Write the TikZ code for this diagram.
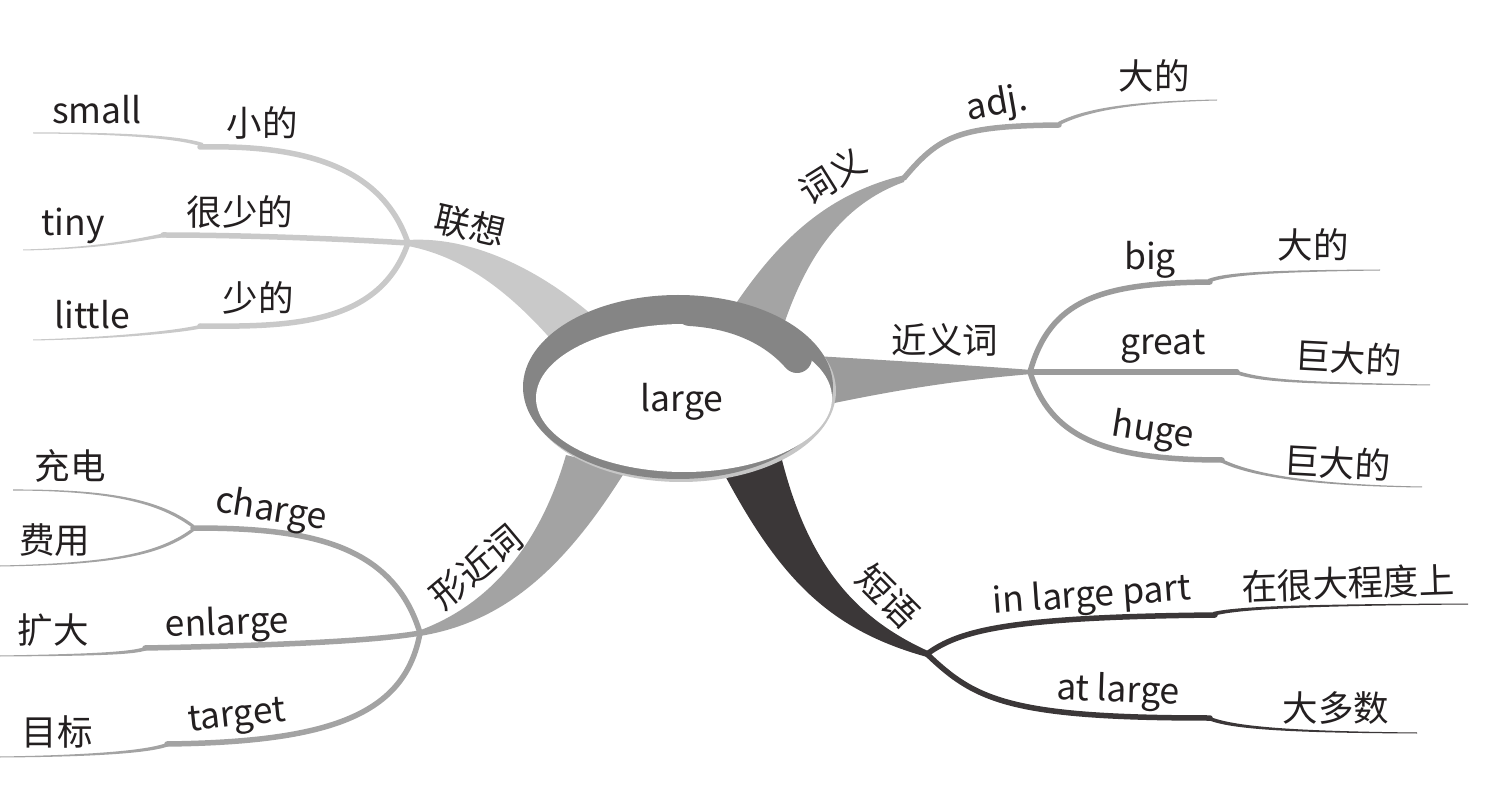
\documentclass[tikz,border=0pt]{standalone}
\usepackage{fontspec}
\setmainfont{Noto Sans CJK SC}
\usetikzlibrary{calc}
\definecolor{cLight}{HTML}{C9C9C9}
\definecolor{cWord}{HTML}{A4A4A4}
\definecolor{cNear}{HTML}{9B9B9B}
\definecolor{cShape}{HTML}{A3A3A3}
\definecolor{cDark}{HTML}{3B3738}
\definecolor{ringc}{HTML}{858585}
\definecolor{rimc}{HTML}{C6C6C6}
\definecolor{txt}{HTML}{231F20}
\newcommand\tailfill[9]{\fill[#1] (#2,#3-2) .. controls (#4,#5-1.5) and (#6,#7-0.9) .. (#8,#9-0.5) -- (#8,#9+0.5) .. controls (#6,#7+0.9) and (#4,#5+1.5) .. (#2,#3+2) -- cycle;}
\tikzset{
  lbl/.style={font=\fontsize{35.5}{40}\selectfont, text=txt, inner sep=0pt},
  twig/.style={draw=#1, line width=5.5pt, line cap=round}
}
\begin{document}
\begin{tikzpicture}[x=1pt,y=-1pt]
\useasboundingbox (0,0) rectangle (1500,799);
% hubs
\coordinate (hubL) at (408,243);
\coordinate (hubB) at (420,633);
\coordinate (hubR) at (1030,372);
\coordinate (hubS) at (927,654);
\coordinate (tipW) at (904,178);
\coordinate (subC) at (193,528);
% main tapered branches
\fill[cLight] ($(hubL)+(0,-3)$) .. controls (470,236) and (540,268) .. (600,322) -- (562,352) .. controls (518,300) and (470,258) .. ($(hubL)+(0,3)$) -- cycle;
\fill[cWord] (725,320) .. controls (770,250) and (820,195) .. ($(tipW)+(1,-3)$) -- ($(tipW)+(0,4)$) .. controls (840,205) and (805,260) .. (782,330) -- cycle;
\fill[cNear] (815,356) .. controls (900,361) and (980,366) .. ($(hubR)+(2,-2)$) -- ($(hubR)+(2,2)$) .. controls (960,380) and (900,389) .. (820,406) -- cycle;
\fill[cShape] (566,455) .. controls (540,545) and (490,605) .. ($(hubB)+(-2,-2)$) -- ($(hubB)+(0,3)$) .. controls (505,622) and (565,568) .. (626,470) -- cycle;
\fill[cDark] (722,470) .. controls (780,580) and (830,630) .. ($(hubS)+(0,3)$) -- ($(hubS)+(1,-3)$) .. controls (860,620) and (810,570) .. (782,460) -- cycle;
% 联想 twigs
\draw[twig=cLight] (hubL) .. controls (380,160) and (290,145) .. (200,147);
\draw[twig=cLight] (hubL) .. controls (330,238) and (230,235) .. (163,235);
\draw[twig=cLight] (hubL) .. controls (380,325) and (290,327) .. (200,326);
\tailfill{cLight}{203}{145}{180}{137}{120}{133}{33}{133}
\tailfill{cLight}{166}{235}{145}{238}{110}{248}{23}{250}
\tailfill{cLight}{203}{326}{185}{331}{120}{338}{33}{340}
% 词义 twig
\draw[twig=cWord] (tipW) .. controls (940,135) and (960,126) .. (1059,125);
\tailfill{cWord}{1058}{124}{1085}{110}{1130}{102}{1217}{100}
% 近义词 twigs
\draw[twig=cNear] (hubR) .. controls (1050,300) and (1100,283) .. (1210,282);
\draw[twig=cNear] (hubR) -- (1237,372);
\draw[twig=cNear] (hubR) .. controls (1050,435) and (1100,460) .. (1222,460);
\tailfill{cNear}{1208}{281}{1228}{273}{1280}{271}{1380}{270}
\tailfill{cNear}{1235}{372}{1262}{381}{1300}{383}{1430}{385}
\tailfill{cNear}{1220}{460}{1242}{471}{1290}{485}{1422}{487}
% 短语 twigs
\draw[twig=cDark] (hubS) .. controls (960,630) and (1010,617) .. (1215,615);
\draw[twig=cDark] (hubS) .. controls (975,700) and (1010,718) .. (1210,718);
\tailfill{cDark}{1213}{614}{1236}{608}{1300}{605}{1468}{604}
\tailfill{cDark}{1208}{718}{1232}{728}{1290}{732}{1417}{733}
% 形近词 twigs
\draw[twig=cShape] (hubB) .. controls (392,540) and (300,528) .. (subC);
\draw[twig=cShape] (hubB) .. controls (370,642) and (250,646) .. (145,648);
\draw[twig=cShape] (hubB) .. controls (405,715) and (330,742) .. (167,744);
\tailfill{cShape}{194}{527}{160}{501}{110}{490}{13}{490}
\tailfill{cShape}{194}{529}{160}{555}{110}{564}{0}{566}
\tailfill{cShape}{147}{648}{135}{654}{80}{655}{0}{656}
\tailfill{cShape}{169}{744}{150}{752}{90}{756}{0}{757}
% central ellipse
\fill[rimc] (681,391) ellipse [x radius=155, y radius=91];
\fill[ringc] (678,387) ellipse [x radius=155, y radius=92];
\fill[white] (684,398) ellipse [x radius=148, y radius=74];
\draw[ringc, line width=30pt, line cap=round] (690,311) .. controls (740,314) and (775,333) .. (797,358);
\node[lbl] (center) at (682,402) {large};
% labels
\node[lbl, rotate=-13] (lx) at (470,226) {联想};
\node[lbl] (xiaode) at (262,123) {小的};
\node[lbl] (small) at (97,110) {small};
\node[lbl] (hsd) at (240,212) {很少的};
\node[lbl] (tiny) at (73,226) {tiny};
\node[lbl] (sd) at (258,298) {少的};
\node[lbl] (little) at (92,315) {little};
\node[lbl, rotate=32] (cy) at (832,176) {词义};
\node[lbl, rotate=10] (adj) at (997,105) {adj.};
\node[lbl] (dd1) at (1154,76) {大的};
\node[lbl] (jyc) at (945,340) {近义词};
\node[lbl] (big) at (1150,260) {big};
\node[lbl] (dd2) at (1313,245) {大的};
\node[lbl] (great) at (1163,347) {great};
\node[lbl, rotate=-3] (jdd1) at (1348,358) {巨大的};
\node[lbl, rotate=-9] (huge) at (1153,432) {huge};
\node[lbl, rotate=-3] (jdd2) at (1337,463) {巨大的};
\node[lbl, rotate=-45] (dy) at (888,596) {短语};
\node[lbl, rotate=4] (ilp) at (1092,597) {in large part};
\node[lbl, rotate=2] (zhd) at (1348,583) {在很大程度上};
\node[lbl, rotate=-2] (atl) at (1118,692) {at large};
\node[lbl] (dds) at (1336,708) {大多数};
\node[lbl, rotate=40] (xjc) at (476,567) {形近词};
\node[lbl, rotate=-9] (charge) at (271,511) {charge};
\node[lbl] (cd) at (70,466) {充电};
\node[lbl] (fy) at (55,540) {费用};
\node[lbl, rotate=2] (enl) at (227,625) {enlarge};
\node[lbl] (kd) at (53,630) {扩大};
\node[lbl, rotate=6] (target) at (237,718) {target};
\node[lbl] (mb) at (57,732) {目标};
\end{tikzpicture}
\end{document}
